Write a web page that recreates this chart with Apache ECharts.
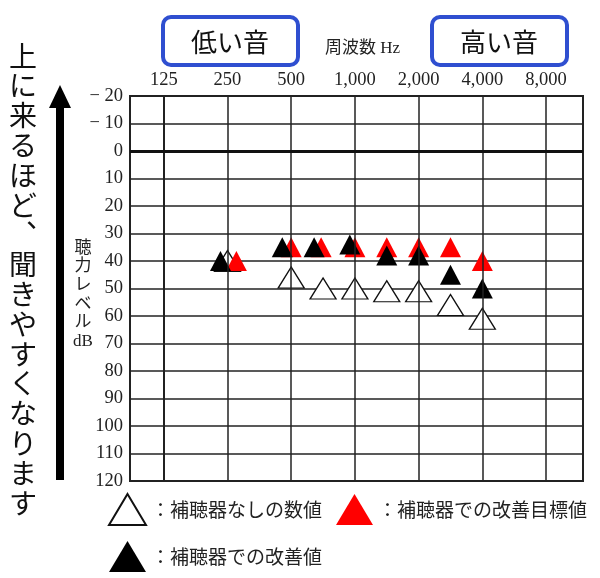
<!DOCTYPE html>
<html>
<head>
<meta charset="utf-8">
<script src="https://cdn.jsdelivr.net/npm/echarts@6/dist/echarts.min.js"></script>
<style>
	html, body { margin: 0; padding: 0; background: #fff; }
	#main { width: 600px; height: 578px; }
</style>
</head>
<body>
<div id="main"></div>
<script>
	// 周波数（125Hzからのオクターブ位置）とラベル
	var freqTicks = [0, 1, 2, 3, 4, 5, 6];
	var freqLabels = ['125', '250', '500', '1,000', '2,000', '4,000', '8,000'];

	// 補聴器なし（白）
	var unaidedX = [1, 2, 2.5, 3, 3.5, 4, 4.5, 5];
	var unaidedY = [40, 46, 50, 50, 51, 51, 56, 61];

	// 改善目標値（赤）
	var targetX = [1.14, 2, 2.47, 3, 3.5, 4, 4.5, 5];
	var targetY = [40, 35, 35, 35, 35, 35, 35, 40];

	// 改善値（黒）
	var aidedX = [0.89, 1.86, 2.36, 2.92, 3.5, 4, 4.5, 5];
	var aidedY = [40, 35, 35, 34, 38, 38, 45, 50];

	var seriesNames = ['：補聴器なしの数値', '：補聴器での改善目標値', '：補聴器での改善値'];
	var sideText = ['上', 'に', '来', 'る', 'ほ', 'ど', '︑', '聞', 'き', 'や', 'す', 'く', 'な', 'り', 'ま', 'す'];
	var yName = ['聴', '力', 'レ', 'ベ', 'ル', 'dB'];

	var CJK = '"Noto Sans CJK JP", sans-serif';
	var SERIF = '"Liberation Serif", "Noto Sans CJK JP", serif';

	function pairs(xs, ys){
		var arr = [];
		for(var i=0; i<xs.length; i++){
			arr.push([xs[i], ys[i]]);
		}
		return arr;
	}

	var gridLines = [];
	for(var i=0; i<freqTicks.length; i++){
		gridLines.push({ xAxis: freqTicks[i] });
	}
	gridLines.push({ yAxis: 0, lineStyle: { width: 3, color: '#111' } });

	var chart = echarts.init(document.getElementById('main'));

	var option = {
		backgroundColor: '#fff',
		animation: false,
		grid: {
			show: true,
			left: 130,
			right: 17,
			top: 96,
			bottom: 97,
			borderColor: '#222',
			borderWidth: 2,
			backgroundColor: '#fff'
		},
		xAxis: {
			type: 'value',
			position: 'top',
			min: -0.53,
			max: 6.58,
			name: '周波数 Hz',
			nameLocation: 'middle',
			nameGap: 39,
			nameTextStyle: { fontFamily: SERIF, fontSize: 17, color: '#222', padding: [0, 0, 0, 12] },
			axisLine: { show: true, lineStyle: { color: '#222', width: 2 } },
			axisTick: { show: false },
			splitLine: { show: false },
			axisLabel: {
				customValues: freqTicks,
				margin: 7,
				fontFamily: SERIF,
				fontSize: 18.5,
				color: '#222',
				formatter: function(v){
					var idx = freqTicks.indexOf(v);
					return idx >= 0 ? freqLabels[idx] : '';
				}
			}
		},
		yAxis: {
			type: 'value',
			inverse: true,
			min: -20,
			max: 120,
			interval: 10,
			axisLine: { show: true, lineStyle: { color: '#222', width: 2 } },
			axisTick: { show: false },
			splitLine: { show: true, lineStyle: { color: '#222', width: 1.5 } },
			axisLabel: {
				margin: 7,
				fontFamily: SERIF,
				fontSize: 18.5,
				color: '#222',
				formatter: function(v){
					return v < 0 ? '− ' + (-v) : String(v);
				}
			}
		},
		legend: {
			data: seriesNames,
			left: 108,
			top: 493,
			width: 492,
			padding: 0,
			itemWidth: 37,
			itemHeight: 31,
			itemGap: 14,
			textStyle: { fontFamily: CJK, fontSize: 19, color: '#222' }
		},
		graphic: [
			{
				type: 'rect',
				shape: { x: 163, y: 17, width: 135, height: 48, r: 8 },
				style: { fill: '#fff', stroke: '#2f4fd0', lineWidth: 4 }
			},
			{
				type: 'text',
				x: 230, y: 42,
				style: { text: '低い音', fontFamily: CJK, fontSize: 26, fill: '#111', align: 'center', verticalAlign: 'middle' }
			},
			{
				type: 'rect',
				shape: { x: 432, y: 17, width: 135, height: 48, r: 8 },
				style: { fill: '#fff', stroke: '#2f4fd0', lineWidth: 4 }
			},
			{
				type: 'text',
				x: 499, y: 42,
				style: { text: '高い音', fontFamily: CJK, fontSize: 26, fill: '#111', align: 'center', verticalAlign: 'middle' }
			},
			{
				type: 'text',
				x: 23, y: 41,
				style: {
					text: sideText.join('\n'),
					fontFamily: CJK, fontSize: 28, lineHeight: 29.8,
					fill: '#111', align: 'center', verticalAlign: 'top'
				}
			},
			{
				type: 'rect',
				shape: { x: 56, y: 105, width: 8, height: 375 },
				style: { fill: '#000' }
			},
			{
				type: 'polygon',
				shape: { points: [[60, 85], [71, 108], [49, 108]] },
				style: { fill: '#000' }
			},
			{
				type: 'text',
				x: 83, y: 239,
				style: {
					text: yName.join('\n'),
					fontFamily: SERIF, fontSize: 17, lineHeight: 18.6,
					fill: '#222', align: 'center', verticalAlign: 'top'
				}
			}
		],
		series: [
			{
				name: 'grid',
				type: 'line',
				data: [],
				z: 1,
				silent: true,
				markLine: {
					silent: true,
					symbol: 'none',
					label: { show: false },
					lineStyle: { color: '#222', width: 1.5, type: 'solid' },
					data: gridLines
				}
			},
			{
				name: seriesNames[0],
				type: 'scatter',
				symbol: 'triangle',
				symbolSize: [26, 21],
				z: 2,
				itemStyle: { color: '#fff', borderColor: '#111', borderWidth: 1.3, opacity: 1 },
				data: pairs(unaidedX, unaidedY)
			},
			{
				name: seriesNames[1],
				type: 'scatter',
				symbol: 'triangle',
				symbolSize: [21, 20],
				z: 3,
				itemStyle: { color: '#ff0000', opacity: 1 },
				data: pairs(targetX, targetY)
			},
			{
				name: seriesNames[2],
				type: 'scatter',
				symbol: 'triangle',
				symbolSize: [21, 20],
				z: 4,
				itemStyle: { color: '#000', opacity: 1 },
				data: pairs(aidedX, aidedY)
			}
		]
	};

	chart.setOption(option);
</script>
</body>
</html>
